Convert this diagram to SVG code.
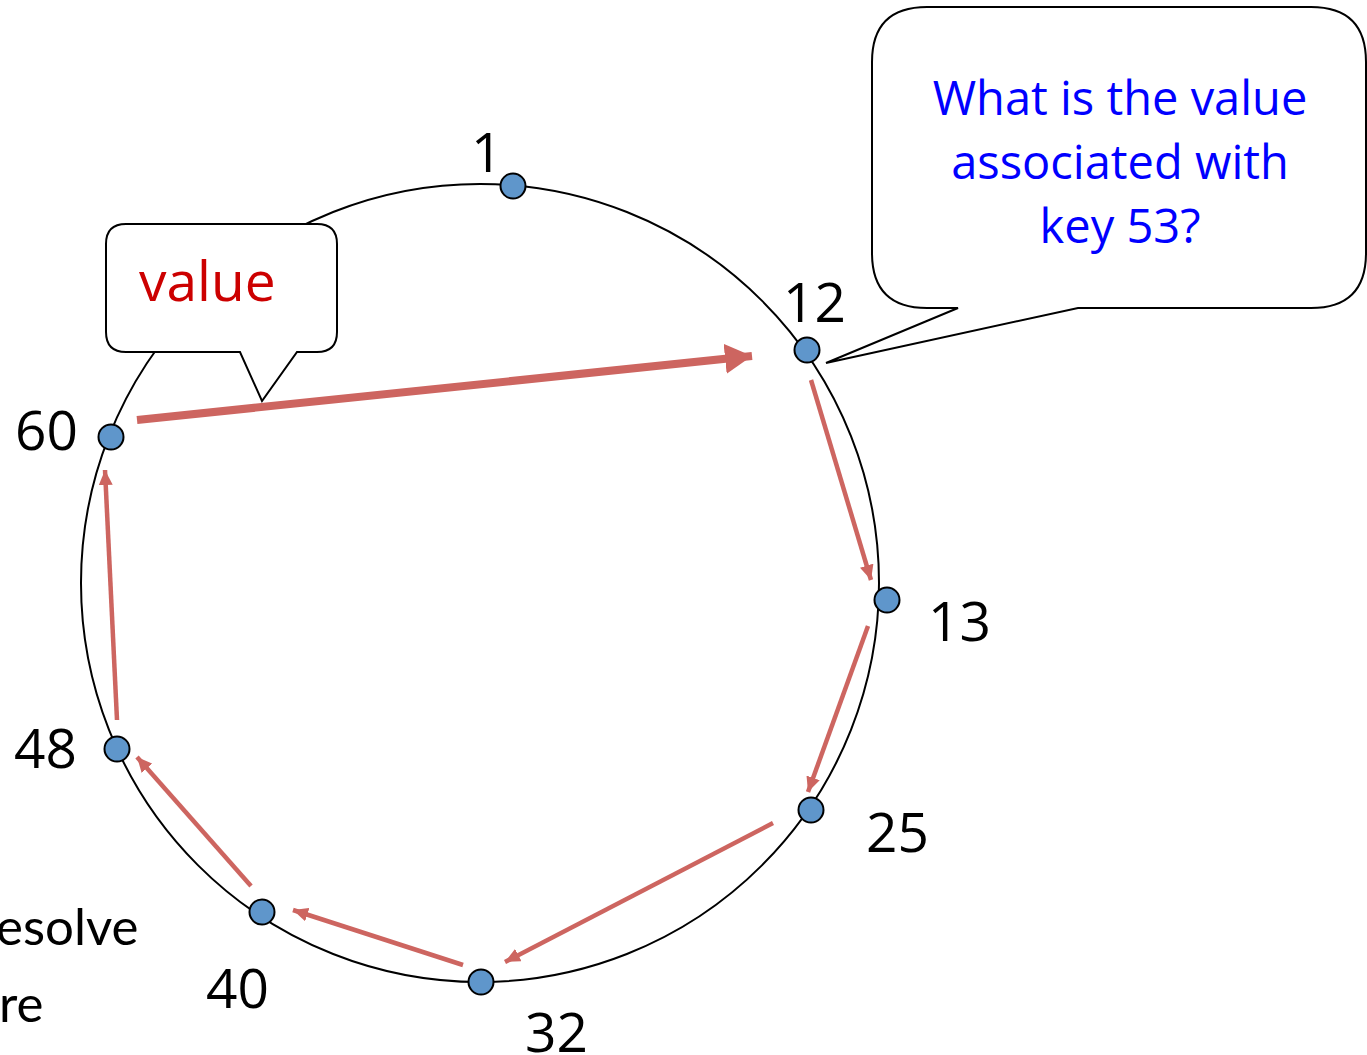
<svg xmlns="http://www.w3.org/2000/svg" width="1367" height="1055" viewBox="0 0 1367 1055">
<style>
.num{font-family:"Open Sans","Liberation Sans",sans-serif;font-size:55px;fill:#000}
.q{font-family:"Open Sans","Liberation Sans",sans-serif;font-size:47px;fill:#0000FF;text-anchor:middle}
.node{fill:#5F96CB;stroke:#000;stroke-width:2}
.arr{stroke:#CD6560;stroke-width:4.5;fill:none}
.arrb{stroke:#CD6560;stroke-width:8;fill:none}
.call{fill:#fff;stroke:#000;stroke-width:2}
.side{font-family:"Lato","Liberation Sans",sans-serif;font-size:51px;fill:#000}
</style>
<defs>
<marker id="ah" markerUnits="userSpaceOnUse" markerWidth="16" markerHeight="14" refX="15" refY="7" orient="auto"><path d="M0,0 L15,7 L0,14 Z" fill="#CD6560"/></marker>
<marker id="ahb" markerUnits="userSpaceOnUse" markerWidth="28" markerHeight="30" refX="27" refY="15" orient="auto"><path d="M0,0 L27,15 L0,30 Z" fill="#CD6560"/></marker>
</defs>
<rect width="1367" height="1055" fill="#fff"/>
<circle cx="480" cy="583" r="399" fill="none" stroke="#000" stroke-width="2"/>
<g id="connectors">
<line class="arrb" x1="137" y1="420" x2="752" y2="356" marker-end="url(#ahb)"/>
<line class="arr" x1="811" y1="380" x2="871" y2="580" marker-end="url(#ah)"/>
<line class="arr" x1="868" y1="626" x2="808" y2="792" marker-end="url(#ah)"/>
<line class="arr" x1="773" y1="823" x2="505" y2="962" marker-end="url(#ah)"/>
<line class="arr" x1="463" y1="965" x2="293" y2="910" marker-end="url(#ah)"/>
<line class="arr" x1="251" y1="886" x2="137" y2="757" marker-end="url(#ah)"/>
<line class="arr" x1="117" y1="720" x2="105" y2="470" marker-end="url(#ah)"/>
</g>
<g id="callout-value">
<path class="call" d="M126,224 H317 Q337,224 337,244 V332 Q337,352 317,352 H297 L262,401 L240,352 H126 Q106,352 106,332 V244 Q106,224 126,224 Z"/>
<text x="139" y="301" style="font-family:'Open Sans','Liberation Sans',sans-serif;font-size:55px;fill:#CC0000">value</text>
</g>
<g id="callout-question">
<path class="call" d="M927,7 H1311 Q1366,7 1366,62 V253 Q1366,308 1311,308 H1078 L826,363 L958,308 H927 Q872,308 872,253 V62 Q872,7 927,7 Z"/>
<text class="q" x="1120" y="115">What is the value</text>
<text class="q" x="1120" y="179">associated with</text>
<text class="q" x="1120" y="243">key 53?</text>
</g>
<g id="node-1"><circle class="node" cx="513" cy="186" r="12.5"/><text class="num" x="471" y="172">1</text></g>
<g id="node-12"><circle class="node" cx="807" cy="350" r="12.5"/><text class="num" x="783" y="322">12</text></g>
<g id="node-13"><circle class="node" cx="887" cy="600" r="12.5"/><text class="num" x="928" y="641">13</text></g>
<g id="node-25"><circle class="node" cx="811" cy="810" r="12.5"/><text class="num" x="866" y="852">25</text></g>
<g id="node-32"><circle class="node" cx="481" cy="982" r="12.5"/><text class="num" x="525" y="1052">32</text></g>
<g id="node-40"><circle class="node" cx="262" cy="912" r="12.5"/><text class="num" x="206" y="1008">40</text></g>
<g id="node-48"><circle class="node" cx="117" cy="749" r="12.5"/><text class="num" x="14" y="768">48</text></g>
<g id="node-60"><circle class="node" cx="111" cy="437" r="12.5"/><text class="num" x="15" y="450">60</text></g>
<text class="side" x="-4" y="945">esolve</text>
<text class="side" x="-1" y="1022">re</text>
</svg>
